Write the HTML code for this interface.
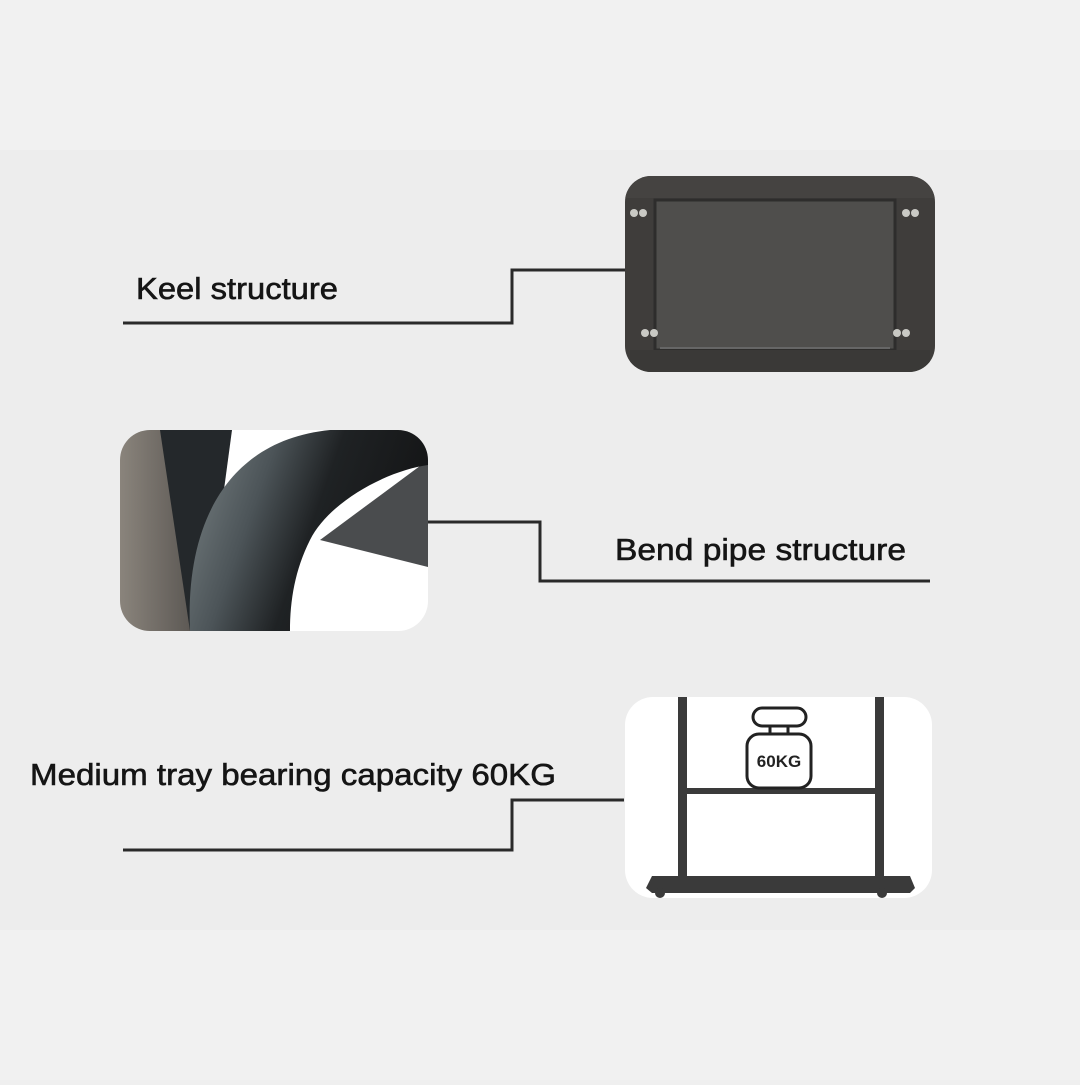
<!DOCTYPE html>
<html><head><style>
body{margin:0;width:1080px;height:1080px;background:#efefef;overflow:hidden;font-family:"Liberation Sans","DejaVu Sans",sans-serif;}
</style></head><body>
<svg width="1080" height="1080" viewBox="0 0 1080 1080" xmlns="http://www.w3.org/2000/svg">
<defs>
<clipPath id="c1"><rect x="625" y="176" width="310" height="196" rx="26"/></clipPath>
<clipPath id="c2"><rect x="120" y="430" width="308" height="201" rx="30"/></clipPath>
<linearGradient id="pipe" x1="0" y1="0" x2="1" y2="0.3">
<stop offset="0" stop-color="#7b8486"/><stop offset="0.35" stop-color="#4c5458"/><stop offset="0.6" stop-color="#1f2224"/><stop offset="1" stop-color="#141516"/></linearGradient>
<linearGradient id="lg" x1="0" y1="0" x2="1" y2="0"><stop offset="0" stop-color="#8a847c"/><stop offset="1" stop-color="#5a5652"/></linearGradient>
</defs>
<rect x="0" y="0" width="1080" height="150" fill="#f1f1f1"/>
<rect x="0" y="930" width="1080" height="150" fill="#f1f1f1"/>
<rect x="0" y="150" width="1080" height="780" fill="#ededed"/>

<g clip-path="url(#c1)">
<rect x="625" y="176" width="310" height="196" fill="#3f3d3b"/>
<rect x="625" y="176" width="310" height="22" fill="#454341"/>
<rect x="655" y="200" width="240" height="150" fill="#4f4e4c" stroke="#2e2d2c" stroke-width="3"/>
<rect x="630" y="350" width="300" height="22" fill="#3a3937"/>
<line x1="660" y1="348" x2="890" y2="348" stroke="#666" stroke-width="2"/>
<g fill="#c9c9c4"><circle cx="634" cy="213" r="4"/><circle cx="643" cy="213" r="4"/><circle cx="906" cy="213" r="4"/><circle cx="915" cy="213" r="4"/><circle cx="645" cy="333" r="4"/><circle cx="654" cy="333" r="4"/><circle cx="897" cy="333" r="4"/><circle cx="906" cy="333" r="4"/></g>
</g>
<polyline points="123,323 512,323 512,270 625,270" fill="none" stroke="#2a2a2a" stroke-width="3"/>
<text x="136" y="299" font-size="31" fill="#151515" stroke="#151515" stroke-width="0.6" textLength="202" lengthAdjust="spacingAndGlyphs">Keel structure</text>

<g clip-path="url(#c2)">
<rect x="120" y="430" width="308" height="201" fill="#ffffff"/>
<rect x="120" y="430" width="75" height="201" fill="url(#lg)"/>
<polygon points="160,430 232,430 205,631 190,631" fill="#24282b"/>
<polygon points="320,540 428,460 428,567" fill="#4a4c4e"/>
<path d="M190,631 C185,520 230,440 330,430 L428,430 L428,465 C390,470 330,500 310,540 C295,570 290,600 290,631 Z" fill="url(#pipe)"/>
</g>
<polyline points="428,522 540,522 540,581 930,581" fill="none" stroke="#2a2a2a" stroke-width="3"/>
<text x="615" y="560" font-size="31" fill="#151515" stroke="#151515" stroke-width="0.6" textLength="291" lengthAdjust="spacingAndGlyphs">Bend pipe structure</text>

<rect x="625" y="697" width="307" height="201" rx="28" fill="#ffffff"/>
<g fill="#3a3a3a">
<rect x="678" y="697" width="9" height="182"/>
<rect x="875" y="697" width="9" height="182"/>
<rect x="678" y="788" width="206" height="6"/>
<path d="M652,876 L910,876 L915,888 L910,893 L652,893 L646,888 Z"/>
<circle cx="660" cy="893" r="5"/><circle cx="882" cy="893" r="5"/>
</g>
<rect x="753" y="708" width="53" height="18" rx="9" fill="#fff" stroke="#222" stroke-width="3"/>
<rect x="770" y="726" width="18" height="10" fill="#fff" stroke="#222" stroke-width="3"/>
<rect x="747" y="734" width="64" height="54" rx="12" fill="#fff" stroke="#222" stroke-width="3"/>
<text x="779" y="767" font-size="17" font-weight="bold" fill="#222" text-anchor="middle">60KG</text>
<polyline points="123,850 512,850 512,800 624,800" fill="none" stroke="#2a2a2a" stroke-width="3"/>
<text x="30" y="785" font-size="31" fill="#151515" stroke="#151515" stroke-width="0.6" textLength="526" lengthAdjust="spacingAndGlyphs">Medium tray bearing capacity 60KG</text>
</svg>
</body></html>
